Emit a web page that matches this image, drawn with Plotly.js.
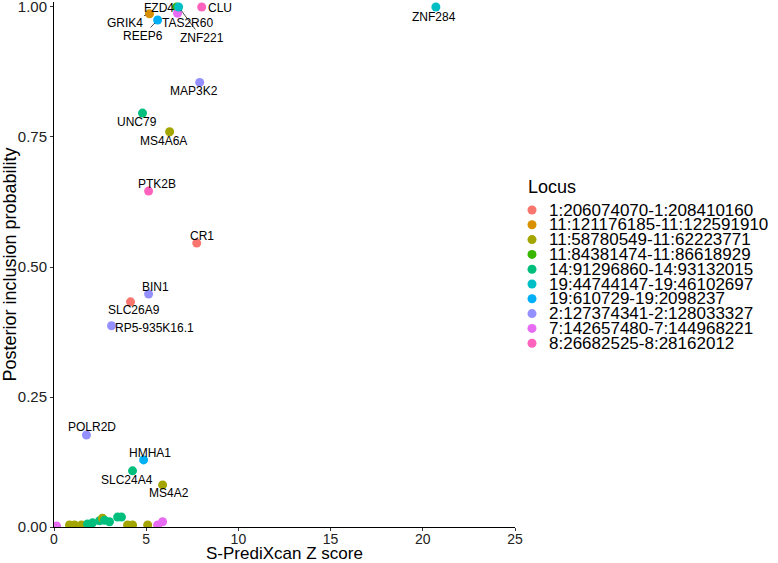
<!DOCTYPE html>
<html>
<head>
<meta charset="utf-8">
<script src="https://cdn.plot.ly/plotly-3.0.1.min.js"></script>
<style>
  body { margin: 0; background: #fff; }
  #chart { width: 778px; height: 563px; }
</style>
</head>
<body>
<div id="chart"></div>
<script>
'use strict'

// loci (legend order) and ggplot hue colours
var loci = [
  "1:206074070-1:208410160",
  "11:121176185-11:122591910",
  "11:58780549-11:62223771",
  "11:84381474-11:86618929",
  "14:91296860-14:93132015",
  "19:44744147-19:46102697",
  "19:610729-19:2098237",
  "2:127374341-2:128033327",
  "7:142657480-7:144968221",
  "8:26682525-8:28162012"
];
var lociColors = ["#F8766D", "#D89000", "#A3A500", "#39B600", "#00BF7D",
                  "#00BFC4", "#00B0F6", "#9590FF", "#E76BF3", "#FF62BC"];

// one entry per gene (drawing order matters for overlaps)
var genes = ["", "", "", "", "", "", "", "", "", "", "", "", "", "", "", "", "",
  "MS4A2", "SLC24A4", "HMHA1", "POLR2D", "RP5-935K16.1", "SLC26A9", "BIN1", "CR1",
  "PTK2B", "MS4A6A", "UNC79", "MAP3K2", "GRIK4", "REEP6", "FZD4", "TAS2R60",
  "ZNF221", "CLU", "ZNF284"];
var zScores = [0.14, 0.84, 1.11, 1.49, 1.82, 2.09, 2.47, 2.63, 2.74, 3.01, 3.45, 3.66, 3.99, 4.26, 5.08, 5.62, 5.89,
  5.89, 4.26, 4.86, 1.76, 3.12, 4.15, 5.13, 7.74,
  5.13, 6.27, 4.80, 7.90, 5.18, 5.62, 6.65, 6.70,
  6.76, 8.01, 20.71];
var pips = [0.002, 0.004, 0.004, 0.004, 0.006, 0.008, 0.012, 0.017, 0.013, 0.010, 0.019, 0.019, 0.004, 0.004, 0.004, 0.004, 0.010,
  0.081, 0.108, 0.129, 0.177, 0.387, 0.433, 0.448, 0.546,
  0.646, 0.760, 0.796, 0.855, 0.987, 0.975, 1.000, 0.988,
  1.000, 1.000, 1.000];
var locusIdx = [8, 2, 2, 2, 4, 4, 4, 2, 4, 4, 4, 4, 2, 2, 2, 8, 8,
  2, 4, 6, 7, 7, 0, 7, 0,
  9, 2, 4, 7, 1, 6, 3, 8,
  5, 9, 5];

var xTicks = [0, 5, 10, 15, 20, 25];
var yTicks = [0, 0.25, 0.5, 0.75, 1];
var yTickText = ["0.00", "0.25", "0.50", "0.75", "1.00"];

// label placement (pixel offset of label centre from its point, draw segment?)
var labelPos = {
  "ZNF284": [-2, 10, false], "CLU": [18, 1, false], "FZD4": [-18, 1, false],
  "GRIK4": [-25, 9, true], "TAS2R60": [10, 10, false], "REEP6": [-15, 16, true],
  "ZNF221": [23, 31, true], "MAP3K2": [-6, 9, false], "UNC79": [-6, 9, false],
  "MS4A6A": [-6, 9, false], "PTK2B": [8, -7, false], "CR1": [5, -7, false],
  "BIN1": [7, -7, false], "SLC26A9": [3, 8, false], "RP5-935K16.1": [43, 2, false],
  "POLR2D": [6, -8, false], "HMHA1": [6, -7, false], "SLC24A4": [-6, 9, false],
  "MS4A2": [6, 8, false]
};

var W = 778, H = 563;
var margin = {l: 54, r: 263, t: 2, b: 36};
var FONT = "Liberation Sans, Arial, sans-serif";

function paperX(px) { return (px - margin.l) / (W - margin.l - margin.r); }
function paperY(py) { return (H - margin.b - py) / (H - margin.t - margin.b); }

var trace = {
  type: 'scatter',
  mode: 'markers',
  x: zScores,
  y: pips,
  marker: {
    size: 9,
    color: locusIdx.map(function (i) { return lociColors[i]; }),
    line: {width: 0}
  },
  showlegend: false,
  hoverinfo: 'skip'
};

var annotations = [];
var shapes = [];
for (var g = 0; g < genes.length; g++) {
  var name = genes[g];
  if (!name) continue;
  var p = labelPos[name];
  annotations.push({
    x: zScores[g], y: pips[g], xref: 'x', yref: 'y',
    text: name,
    showarrow: true,
    ax: p[0], ay: p[1],
    arrowhead: 0, arrowwidth: 0.7, standoff: 4,
    arrowcolor: p[2] ? '#000' : 'rgba(0,0,0,0)',
    font: {family: FONT, size: 12, color: '#000'}
  });
}

// x title sits lower than plotly's margin rules allow, so place it by hand
annotations.push({
  xref: 'paper', yref: 'paper', x: 0.5, y: paperY(553),
  xanchor: 'center', yanchor: 'middle', showarrow: false,
  text: 'S-PrediXcan Z score', font: {family: FONT, size: 17, color: '#000'}
});

// legend drawn by hand to keep ggplot's tight row spacing
annotations.push({
  xref: 'paper', yref: 'paper', x: paperX(526), y: paperY(187),
  xanchor: 'left', yanchor: 'middle', showarrow: false,
  text: 'Locus', font: {family: FONT, size: 18, color: '#000'}
});
for (var i = 0; i < loci.length; i++) {
  var py = 210 + i * 14.8;
  shapes.push({
    type: 'circle', xref: 'paper', yref: 'paper',
    xsizemode: 'pixel', ysizemode: 'pixel',
    xanchor: paperX(532), yanchor: paperY(py),
    x0: -4.5, x1: 4.5, y0: -4.5, y1: 4.5,
    fillcolor: lociColors[i], line: {width: 0}
  });
  annotations.push({
    xref: 'paper', yref: 'paper', x: paperX(547), y: paperY(py),
    xanchor: 'left', yanchor: 'middle', showarrow: false,
    text: loci[i], font: {family: FONT, size: 17, color: '#000'}
  });
}

var layout = {
  width: W, height: H,
  margin: margin,
  paper_bgcolor: '#fff',
  plot_bgcolor: '#fff',
  font: {family: FONT, size: 15, color: '#222'},
  showlegend: false,
  xaxis: {
    range: [0, 25],
    tickvals: xTicks,
    showgrid: false, zeroline: false,
    showline: true, linecolor: '#000', linewidth: 1,
    ticks: 'outside', ticklen: 3, tickcolor: '#333',
    ticklabelstandoff: -4,
    tickfont: {family: FONT, size: 14, color: '#222'}
  },
  yaxis: {
    range: [0, 1.0096],
    tickvals: yTicks,
    ticktext: yTickText,
    ticklabeloverflow: 'allow',
    showgrid: false, zeroline: false,
    showline: true, linecolor: '#000', linewidth: 1,
    ticks: 'outside', ticklen: 3, tickcolor: '#333',
    tickfont: {family: FONT, size: 15, color: '#222'},
    title: {text: 'Posterior inclusion probability', standoff: 4, font: {family: FONT, size: 18, color: '#000'}}
  },
  annotations: annotations,
  shapes: shapes
};

Plotly.newPlot('chart', [trace], layout, {displayModeBar: false, staticPlot: true});
</script>
</body>
</html>
